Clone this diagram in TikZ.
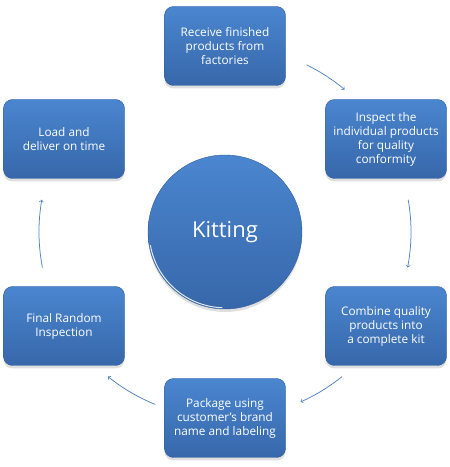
\documentclass[tikz,border=0pt]{standalone}
\usepackage{fontspec}
\setmainfont{Open Sans}
\usetikzlibrary{shadows}
\definecolor{boxtop}{HTML}{4A86CF}
\definecolor{boxbottom}{HTML}{3767AA}
\definecolor{boxline}{HTML}{2F5E9E}
\definecolor{arrowblue}{HTML}{4F81BD}
\begin{document}
\begin{tikzpicture}[x=1pt, y=1pt,
    stepbox/.style={rectangle, rounded corners=9pt,
        minimum width=121pt, minimum height=79pt,
        top color=boxtop, bottom color=boxbottom, draw=boxline, thin,
        text=white, align=center,
        font=\fontsize{11.8}{14}\selectfont,
        drop shadow={shadow xshift=0pt, shadow yshift=-3pt, opacity=0.25}},
    hubnode/.style={circle, minimum size=154pt, inner sep=0pt,
        top color=boxtop, bottom color=boxbottom, draw=boxline, thin,
        text=white, font=\fontsize{22}{26}\selectfont,
        drop shadow={shadow xshift=0pt, shadow yshift=-3pt, opacity=0.25}},
    flow/.style={->, arrowblue, line width=0.75pt}]

    \useasboundingbox (0,0) rectangle (450,467);

    \node[hubnode] (hub) at (225,235) {Kitting};
    % white rim on the lower left of the circle
    \draw[white, line width=1pt, opacity=0.85]
        (hub.center) ++(190:75.8) arc[start angle=190, end angle=268, radius=75.8];

    \node[stepbox] (receive) at (225,421) {Receive finished\\products from\\factories};
    \node[stepbox] (inspect) at (386,328) {Inspect the\\individual products\\for quality\\conformity};
    \node[stepbox] (combine) at (386,141) {Combine quality\\products into\\a complete kit};
    \node[stepbox] (package) at (225,49) {Package using\\customer's brand\\name and labeling};
    \node[stepbox] (final) at (64,141) {Final Random\\Inspection};
    \node[stepbox] (deliver) at (64,328) {Load and\\deliver on time};

    \foreach \a/\b in {64/50, 10/-11, -51/-66, -112/-129, -169/-190}
        \draw[flow] (hub.center) ++(\a:186)
            arc[start angle=\a, end angle=\b, radius=186];

\end{tikzpicture}
\end{document}
